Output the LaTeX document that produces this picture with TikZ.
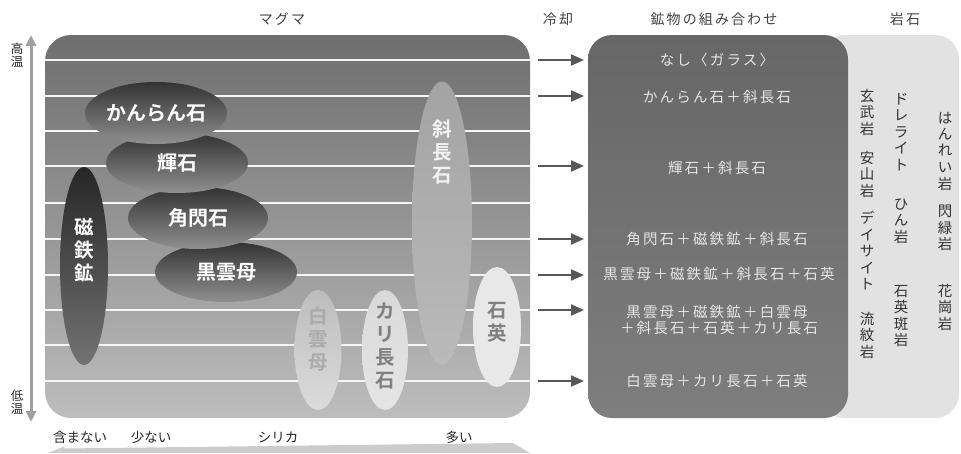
\documentclass[tikz,border=0pt]{standalone}
\usepackage{fontspec}
\setmainfont{Noto Sans CJK JP}[BoldFont={Noto Sans CJK JP Bold}]
\newfontfamily\jpsp{Noto Sans CJK JP}[LetterSpace=15]
\usetikzlibrary{shapes.geometric,arrows.meta}
\definecolor{mgtop}{HTML}{6E6E6E}
\definecolor{mgbot}{HTML}{BDBDBD}
\definecolor{dktop}{HTML}{676767}
\definecolor{dkbot}{HTML}{7E7E7E}
\definecolor{rockc}{HTML}{E2E2E2}
\definecolor{eltop}{HTML}{333333}
\definecolor{elbot}{HTML}{909090}
\definecolor{arrc}{HTML}{585858}
\definecolor{axisc}{HTML}{A0A0A0}
\definecolor{hdr}{HTML}{404040}
\definecolor{boxtxt}{HTML}{E6E6E6}
\definecolor{rocktxt}{HTML}{333333}
\begin{document}
\begin{tikzpicture}[x=1pt,y=-1pt,
  hline/.style={draw=white!92!gray, line width=1.6pt},
  flow/.style={draw=arrc, line width=2.2pt, -{Triangle[length=13pt,width=11pt]}},
  mineral/.style={ellipse, inner sep=0pt, text=white, font=\bfseries\fontsize{20}{24}\selectfont},
  vmin/.style={align=center, inner sep=0pt, font=\bfseries\fontsize{19.5}{23}\selectfont},
  hdrtxt/.style={text=hdr, inner sep=0pt, font=\jpsp\fontsize{14}{16}\selectfont},
  boxline/.style={text=boxtxt, inner sep=0pt, align=center, font=\jpsp\fontsize{14.5}{16}\selectfont},
  rock/.style={text=rocktxt, inner sep=0pt, align=center, font=\fontsize{14.5}{16.5}\selectfont},
  axtxt/.style={text=black!85, inner sep=0pt, font=\fontsize{13.5}{15}\selectfont},
  vaxtxt/.style={text=black!85, inner sep=0pt, align=center, font=\fontsize{12.5}{13.5}\selectfont}]
\useasboundingbox (0,0) rectangle (961,453);
% boxes
\fill[rockc, rounded corners=24pt] (820,35) rectangle (959,418);
\shade[top color=dktop, bottom color=dkbot, rounded corners=24pt] (588,35) rectangle (848,418);
\shade[top color=mgtop, bottom color=mgbot, rounded corners=26pt] (45,35) rectangle (530,418);
% white lines
\foreach \yy in {60,96,131,166,203,239,275,310,345,381}
  \draw[hline] (45,\yy) -- (530,\yy);
% minerals (tall ones)
\node[ellipse, minimum width=60pt, minimum height=283pt, top color=black!36, bottom color=black!27] (plag) at (442,223) {};
\node[vmin, text=white!90!gray] (plagt) at (442,152) {斜\\長\\石};
\node[ellipse, minimum width=48pt, minimum height=120pt, fill=black!9] (qz) at (497,327) {};
\node[vmin, text=black!50] (qzt) at (497,322) {石\\英};
\node[ellipse, minimum width=46pt, minimum height=120pt, top color=black!15, bottom color=black!10] (kf) at (385,350) {};
\node[vmin, text=black!50] (kft) at (385,346) {カ\\リ\\長\\石};
\node[ellipse, minimum width=47pt, minimum height=120pt, top color=black!26, bottom color=black!14] (mu) at (318,350) {};
\node[vmin, text=black!33] (mut) at (318,339) {白\\雲\\母};
\node[ellipse, minimum width=48pt, minimum height=198pt, top color=black!85, bottom color=black!55] (mag) at (84,266) {};
\node[vmin, text=white] (magt) at (84,250) {磁\\鉄\\鉱};
% minerals (flat ones)
\node[mineral, minimum width=142pt, minimum height=60pt, top color=eltop, bottom color=elbot] (bio) at (226,272) {\raisebox{-3pt}{黒雲母}};
\node[mineral, minimum width=140pt, minimum height=62pt, top color=eltop, bottom color=elbot] (hb) at (198,218) {\raisebox{-2pt}{角閃石}};
\node[mineral, minimum width=142pt, minimum height=60pt, top color=eltop, bottom color=elbot] (px) at (177,163) {\raisebox{-2pt}{輝石}};
\node[mineral, minimum width=142pt, minimum height=62pt, top color=eltop, bottom color=elbot] (ol) at (156,113) {かんらん石};
% cooling arrows
\foreach \yy in {60,96,166,239,275,310,381}
  \draw[flow] (538,\yy) -- (584,\yy);
% left axis
\node[vaxtxt] (hot) at (17,55) {高\\温};
\node[vaxtxt] (cold) at (17,402) {低\\温};
\draw[axisc, line width=3pt, {Triangle[length=11pt,width=10pt]}-{Triangle[length=11pt,width=10pt]}] (31,35) -- (31,422);
% bottom axis
\fill[black!20] (48,453) -- (64,446.5) -- (64,448.5) -- (513,443) -- (530,453) -- cycle;
\node[axtxt] (none) at (80,437) {含まない};
\node[axtxt] (few) at (151,437) {少ない};
\node[axtxt] (si) at (278,437) {シリカ};
\node[axtxt] (many) at (459,437) {多い};
% headers
\node[hdrtxt] (h1) at (282,19) {マグマ};
\node[hdrtxt] (h2) at (558,19) {冷却};
\node[hdrtxt] (h3) at (714,19) {鉱物の組み合わせ};
\node[hdrtxt] (h4) at (905,19) {岩石};
% mineral combinations
\node[boxline] (c1) at (717,60) {なし〈ガラス〉};
\node[boxline] (c2) at (717,97) {かんらん石＋斜長石};
\node[boxline] (c3) at (717,168) {輝石＋斜長石};
\node[boxline] (c4) at (717,239) {角閃石＋磁鉄鉱＋斜長石};
\node[boxline] (c5) at (719,274) {黒雲母＋磁鉄鉱＋斜長石＋石英};
\node[boxline] (c6) at (717,312) {黒雲母＋磁鉄鉱＋白雲母};
\node[boxline] (c7) at (719,328) {＋斜長石＋石英＋カリ長石};
\node[boxline] (c8) at (717,381) {白雲母＋カリ長石＋石英};
% rocks
\node[rock] (r1) at (867,112) {玄\\武\\岩};
\node[rock] (r2) at (867,174) {安\\山\\岩};
\node[rock] (r3) at (867,251) {デ\\イ\\サ\\イ\\ト};
\node[rock] (r4) at (867,335) {流\\紋\\岩};
\node[rock] (r5) at (901,132) {ド\\レ\\ラ\\イ\\ト};
\node[rock] (r6) at (901,221) {ひ\\ん\\岩};
\node[rock] (r7) at (901,316) {石\\英\\斑\\岩};
\node[rock] (r8) at (945,151) {は\\ん\\れ\\い\\岩};
\node[rock] (r9) at (945,228) {閃\\緑\\岩};
\node[rock] (r10) at (945,307) {花\\崗\\岩};
\end{tikzpicture}
\end{document}
